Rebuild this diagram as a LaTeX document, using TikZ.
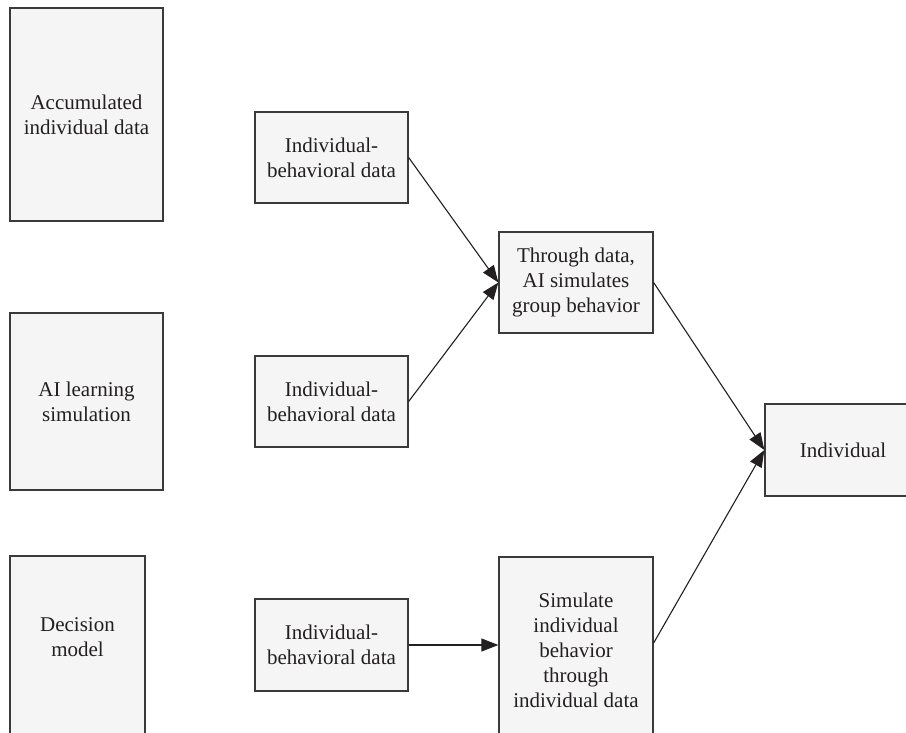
\documentclass[tikz,border=0pt]{standalone}
\usepackage{fontspec}
\setmainfont{Liberation Serif}
\usetikzlibrary{arrows.meta}
\definecolor{boxfill}{HTML}{F5F5F5}
\definecolor{boxline}{HTML}{3A3A3A}
\definecolor{ink}{HTML}{231F20}
\begin{document}
\begin{tikzpicture}[x=1pt,y=-1pt,
  box/.style={draw=boxline, fill=boxfill, line width=1.3pt, inner sep=0pt, align=center, text=ink, font=\fontsize{21}{25}\selectfont},
  lbl/.style={inner sep=0pt, align=center, text=ink, font=\fontsize{21}{25}\selectfont},
  conn/.style={draw=ink, line width=1.1pt, -{Triangle[length=17pt,width=13pt]}}]
\useasboundingbox (0,0) rectangle (906,733);
\clip (0,0) rectangle (906,733);
% left column
\node[box, minimum width=153pt, minimum height=213pt] (A) at (86.5,114.5) {Accumulated\\individual data};
\node[box, minimum width=153pt, minimum height=177pt] (B) at (86.5,401.5) {AI learning\\simulation};
\node[box, minimum width=135pt, minimum height=204pt] (C) at (77.5,658) {};
\node[lbl] (Ct) at (77.5,637) {Decision\\model};
% data boxes
\node[box, minimum width=153pt, minimum height=91pt] (D1) at (331.5,157.5) {Individual-\\behavioral data};
\node[box, minimum width=153pt, minimum height=91pt] (D2) at (331.5,401.5) {Individual-\\behavioral data};
\node[box, minimum width=153pt, minimum height=92pt] (D3) at (331.5,645) {Individual-\\behavioral data};
% middle
\node[box, minimum width=154pt, minimum height=101pt] (G) at (576,282.5) {Through data,\\AI simulates\\group behavior};
\node[box, minimum width=154pt, minimum height=186pt] (S) at (576,650) {Simulate\\individual\\behavior\\through\\individual data};
% right
\node[box, minimum width=156pt, minimum height=92pt] (I) at (843,450) {Individual};
% connectors
\draw[conn] (D1.east) -- (G.west);
\draw[conn] (D2.east) -- (G.west);
\draw[conn] (D3.east) -- (D3.east -| S.west);
\draw[conn] (G.east) -- (I.west);
\draw[conn] ([yshift=7pt]S.east) -- (I.west);
\end{tikzpicture}
\end{document}
